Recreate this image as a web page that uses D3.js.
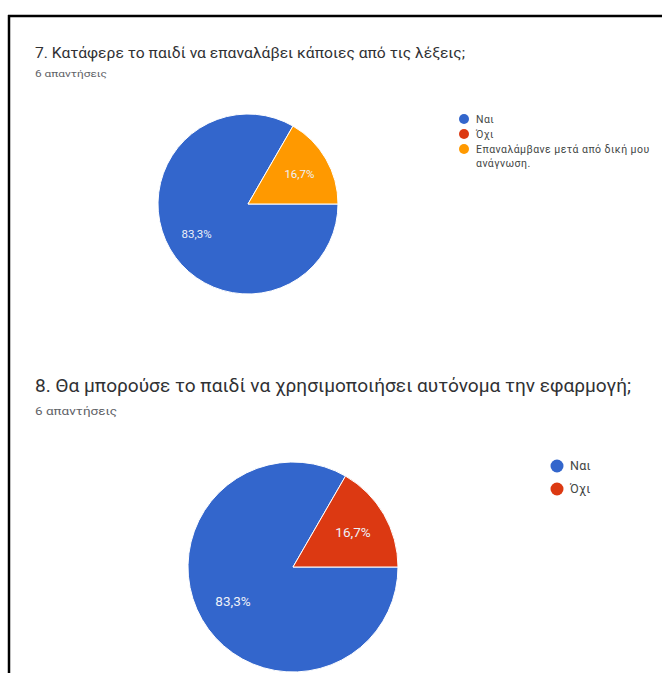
<!DOCTYPE html>
<html>
<head>
<meta charset="utf-8">
<script src="https://cdn.jsdelivr.net/npm/d3@7"></script>
<style>
  html, body { margin: 0; padding: 0; background: #ffffff; }
  svg { display: block; }
</style>
</head>
<body>
<svg id="chart" width="662" height="673"></svg>
<script>
// Question 7: responses
const q7Title = "7. Κατάφερε το παιδί να επαναλάβει κάποιες από τις λέξεις;";
const q7Count = "6 απαντήσεις";
const q7Categories = ["Ναι", "Όχι", "Επαναλάμβανε μετά από δική μου ανάγνωση."];
const q7Values = [5, 0, 1];

// Question 8: responses
const q8Title = "8. Θα μπορούσε το παιδί να χρησιμοποιήσει αυτόνομα την εφαρμογή;";
const q8Count = "6 απαντήσεις";
const q8Categories = ["Ναι", "Όχι"];
const q8Values = [5, 1];

const sliceColors = ["#3366cc", "#dc3912", "#ff9900"];

const svg = d3.select("#chart");

// Frame around the page
svg.append("line").attr("x1", 8).attr("x2", 662).attr("y1", 16).attr("y2", 16)
  .attr("stroke", "#000").attr("stroke-width", 2.5);
svg.append("line").attr("x1", 9).attr("x2", 9).attr("y1", 15).attr("y2", 673)
  .attr("stroke", "#000").attr("stroke-width", 2.5);

const fontFamily = "Roboto, 'Open Sans', 'DejaVu Sans', sans-serif";

function percent(v, total) {
  return (v / total * 100).toFixed(1).replace(".", ",") + "%";
}

function drawQuestion(cfg) {
  const g = svg.append("g");

  g.append("text")
    .attr("x", cfg.titleX).attr("y", cfg.titleY)
    .attr("font-family", fontFamily)
    .attr("font-size", cfg.titleSize)
    .attr("fill", "#303134")
    .attr("textLength", cfg.titleWidth)
    .attr("lengthAdjust", "spacingAndGlyphs")
    .text(cfg.title);

  g.append("text")
    .attr("x", cfg.titleX).attr("y", cfg.countY)
    .attr("font-family", fontFamily)
    .attr("font-size", cfg.countSize)
    .attr("fill", "#5f6368")
    .attr("textLength", cfg.countWidth)
    .attr("lengthAdjust", "spacingAndGlyphs")
    .text(cfg.count);

  const color = d3.scaleOrdinal().domain(cfg.categories).range(sliceColors);
  const total = d3.sum(cfg.values);
  const data = cfg.categories.map((c, i) => ({ name: c, value: cfg.values[i] }));

  const pie = d3.pie()
    .value(d => d.value)
    .sort(null)
    .startAngle(Math.PI / 2)
    .endAngle(Math.PI / 2 + 2 * Math.PI);

  const arcs = pie(data).filter(d => d.data.value > 0);
  const arc = d3.arc().innerRadius(0).outerRadius(cfg.r);
  const labelArc = d3.arc().innerRadius(cfg.r * 0.66).outerRadius(cfg.r * 0.66);

  const pg = g.append("g").attr("transform", `translate(${cfg.cx},${cfg.cy})`);
  pg.selectAll("path").data(arcs).join("path")
    .attr("d", arc)
    .attr("fill", d => color(d.data.name))
    .attr("stroke", "#ffffff")
    .attr("stroke-width", 1);

  pg.selectAll("text").data(arcs).join("text")
    .attr("transform", d => `translate(${labelArc.centroid(d)})`)
    .attr("text-anchor", "middle")
    .attr("dy", "0.35em")
    .attr("font-family", fontFamily)
    .attr("font-size", cfg.labelSize)
    .attr("fill", "#eef1f8")
    .text(d => percent(d.data.value, total));

  // Legend
  const lg = g.append("g").attr("transform", `translate(${cfg.legendX},${cfg.legendY})`);
  let y = 0;
  cfg.categories.forEach((name, i) => {
    lg.append("circle").attr("cx", 0).attr("cy", y).attr("r", cfg.dotR)
      .attr("fill", color(name));
    const lines = cfg.legendLines[i];
    lines.forEach((line, j) => {
      lg.append("text")
        .attr("x", cfg.textDx).attr("y", y + j * cfg.lineH)
        .attr("dy", "0.35em")
        .attr("font-family", fontFamily)
        .attr("font-size", cfg.legendSize)
        .attr("letter-spacing", cfg.legendSpacing)
        .attr("fill", "#444746")
        .text(line);
    });
    y += cfg.rowH + (lines.length - 1) * cfg.lineH;
  });
}

drawQuestion({
  title: q7Title, count: q7Count, categories: q7Categories, values: q7Values,
  titleX: 35, titleY: 58, titleSize: 14.5, titleWidth: 430,
  countY: 77, countSize: 9.5, countWidth: 72,
  cx: 248, cy: 204, r: 90, labelSize: 11.5,
  legendX: 464, legendY: 119, dotR: 5, textDx: 12, rowH: 15, lineH: 14,
  legendSize: 10.5, legendSpacing: 0.45,
  legendLines: [["Ναι"], ["Όχι"], ["Επαναλάμβανε μετά από δική μου", "ανάγνωση."]]
});

drawQuestion({
  title: q8Title, count: q8Count, categories: q8Categories, values: q8Values,
  titleX: 35, titleY: 392, titleSize: 18, titleWidth: 596,
  countY: 415, countSize: 11.5, countWidth: 82,
  cx: 293, cy: 567, r: 105, labelSize: 13.5,
  legendX: 557, legendY: 466, dotR: 6.5, textDx: 13, rowH: 23, lineH: 16,
  legendSize: 12.5, legendSpacing: 0.3,
  legendLines: [["Ναι"], ["Όχι"]]
});
</script>
</body>
</html>
